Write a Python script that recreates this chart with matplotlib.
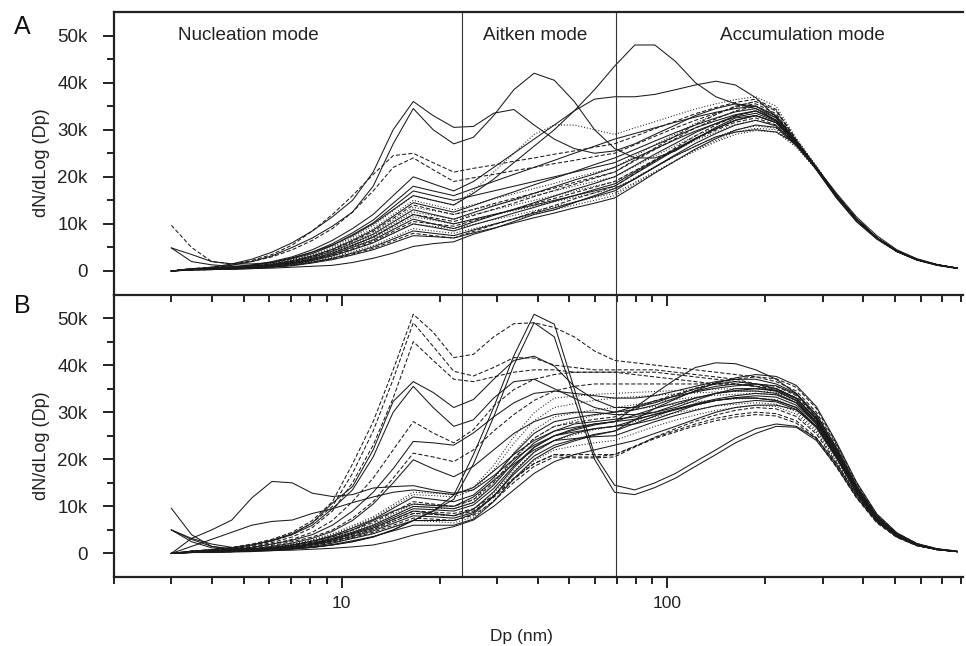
import matplotlib
matplotlib.use("Agg")
import matplotlib.pyplot as plt
import numpy as np
from matplotlib.ticker import FixedLocator, NullFormatter, FuncFormatter, LogLocator

plt.rcParams['font.family'] = ['Liberation Sans', 'DejaVu Sans']

# particle diameter bins (nm)
dp = [3.0, 3.46, 3.99, 4.6, 5.3, 6.11, 7.05, 8.13, 9.37, 10.8,
      12.5, 14.4, 16.6, 19.1, 22.1, 25.4, 29.3, 33.8, 39.0, 45.0,
      51.8, 59.8, 68.9, 79.5, 91.6, 106, 122, 141, 162, 187,
      216, 249, 287, 331, 381, 440, 507, 585, 674, 777]

mode_labels = ["Nucleation mode", "Aitken mode", "Accumulation mode"]
mode_bounds = [23.5, 69.5]
ytick_values = [0, 10000, 20000, 30000, 40000, 50000]

# ---- panel A (values in thousands) ----
a01 = [0, .3, .8, 1.5, 2.5, 4, 6, 8.5, 11.5, 15, 21, 30, 36, 33, 30.5, 30.7, 33.5, 34.3, 31, 28, 26, 25, 25.5, 27, 29, 31, 33, 34.5, 35.5, 35, 32.5, 27.5, 22, 16, 11, 7, 4.2, 2.4, 1.3, .6]
a02 = [0, .3, .6, 1.2, 2, 3.2, 5, 7, 9.5, 12.5, 18, 27, 34.5, 30, 27, 28.4, 33, 38.5, 42, 40.5, 36, 30, 26, 24, 24, 25.5, 28, 30.5, 32.5, 33, 31.5, 27.5, 22, 16, 11, 7, 4.3, 2.4, 1.3, .6]
a03 = [0, .3, .5, .8, 1.2, 1.8, 2.8, 4, 5.5, 7.5, 10, 13, 16, 15, 14, 16.5, 19.5, 23, 26.5, 30, 34, 38.5, 43.5, 48, 48, 44.5, 40, 37, 35.5, 34.5, 32, 27, 21.5, 15.5, 10.5, 6.8, 4.1, 2.3, 1.2, .6]
a04 = [0, .3, .5, .8, 1.2, 2, 3, 4.5, 6.5, 9, 12, 16, 20, 18.5, 17, 19, 22, 25, 28, 31, 34, 36.5, 37, 37, 37.5, 38.5, 39.5, 40.3, 39.5, 36.8, 32.7, 27.5, 21.5, 15.5, 10.5, 6.8, 4.1, 2.3, 1.2, .5]
a05 = [0, .2, .3, .4, .5, .6, .8, 1, 1.2, 1.8, 2.7, 3.8, 5.2, 5.8, 6.2, 7.8, 9, 10.5, 12, 13, 14.5, 16, 17.5, 19.5, 22, 24.5, 26.5, 28.5, 29.5, 30, 29.5, 27, 22, 16.5, 11.5, 7.5, 4.5, 2.6, 1.4, .6]
a06 = [0, .5, .8, 1.3, 2.2, 3.5, 5.5, 8.5, 12, 16, 20.5, 24.5, 25, 23, 21, 21.8, 22.5, 23.3, 24, 24.8, 25.5, 26.3, 27, 28.6, 30.2, 31.8, 33.4, 34.7, 35.8, 36.5, 34.3, 27.9, 22.1, 16, 11, 7, 4.2, 2.4, 1.3, .6]
a07 = [9.7, 5, 2, 1.5, 2, 3, 4.5, 6.5, 9, 12.5, 17, 22, 24, 21.5, 19, 19.8, 20.5, 21.3, 22, 22.8, 23.5, 24.3, 25, 26.8, 28.6, 30.4, 32, 33.5, 34.8, 35.5, 33.4, 27.6, 22, 16, 11, 7, 4.2, 2.4, 1.3, .6]
a08 = [0, .5, .7, .9, 1.3, 1.8, 2.7, 4, 5.8, 8.1, 10.8, 14.4, 18, 17, 16, 17.5, 19, 20.5, 22, 23.5, 25, 26.5, 28, 29.2, 30.4, 31.6, 32.7, 33.7, 34.5, 35, 33, 27.5, 21.9, 16, 11, 7, 4.2, 2.4, 1.3, .6]
a09 = [4.9, 3.5, 2, 1.5, 1.5, 1.8, 2.6, 3.7, 5.4, 7.7, 10.2, 13.6, 17, 16, 15, 16, 17, 18, 19, 20, 21, 22, 23, 24.9, 26.7, 28.6, 30.4, 31.9, 33.2, 34, 32, 27.3, 21.9, 16, 11, 7, 4.2, 2.4, 1.3, .6]
a10 = [0, .5, .6, .8, 1.1, 1.6, 2.4, 3.5, 5.1, 7.2, 9.6, 12.8, 16, 15, 14, 17, 21, 25, 29, 31, 31, 30, 29, 30.4, 31.7, 33.1, 34.4, 35.5, 36.4, 37, 35, 28.2, 22.3, 16.2, 11.1, 7.1, 4.3, 2.4, 1.3, .6]
a11 = [0, .5, .6, .8, 1.1, 1.5, 2.3, 3.3, 4.8, 6.8, 9, 12, 15, 14, 13, 14.1, 15.3, 16.4, 17.5, 18.6, 19.8, 20.9, 22, 24.4, 26.8, 29.1, 31.4, 33.3, 35, 36, 34, 27.8, 22.1, 16, 11, 7, 4.2, 2.4, 1.3, .6]
a12 = [0, .4, .6, .7, 1, 1.5, 2.2, 3.2, 4.6, 6.5, 8.7, 11.6, 14.5, 13.5, 12.5, 13.9, 15.4, 16.8, 18.3, 19.7, 21.1, 22.6, 24, 25.8, 27.6, 29.4, 31, 32.5, 33.8, 34.5, 32.5, 27.4, 21.9, 16, 11, 7, 4.2, 2.4, 1.3, .6]
a13 = [0, .4, .6, .7, 1, 1.4, 2.1, 3.1, 4.5, 6.3, 8.4, 11.2, 14, 13, 12, 13.1, 14.3, 15.4, 16.5, 17.6, 18.8, 19.9, 21, 23.4, 25.8, 28.1, 30.4, 32.3, 34, 35, 33, 27.5, 21.9, 16, 11, 7, 4.2, 2.4, 1.3, .6]
a14 = [0, .4, .5, .7, .9, 1.4, 2, 3, 4.3, 6.1, 8.1, 10.8, 13.5, 12.8, 12, 13, 14, 15, 16, 17, 18, 19, 20, 22.2, 24.4, 26.6, 28.7, 30.5, 32.1, 33, 31.5, 27, 21.8, 16, 11, 7, 4.2, 2.4, 1.3, .6]
a15 = [4.9, 2, 1.3, 1, 1, 1.3, 2, 2.9, 4.2, 5.9, 7.8, 10.4, 13, 12, 11, 12.4, 13.8, 15.1, 16.5, 17.9, 19.3, 20.6, 22, 24, 25.9, 27.9, 29.7, 31.3, 32.7, 33.5, 31.8, 27.1, 21.8, 16, 11, 7, 4.2, 2.4, 1.3, .6]
a16 = [0, .4, .5, .6, .9, 1.3, 1.9, 2.8, 4, 5.6, 7.5, 10, 12.5, 11.8, 11, 12, 13, 14, 15, 16, 17, 18, 19, 21.2, 23.4, 25.6, 27.7, 29.5, 31.1, 32, 31, 26.8, 21.7, 16, 11, 7, 4.2, 2.4, 1.3, .6]
a17 = [0, .4, .5, .6, .8, 1.2, 1.8, 2.6, 3.8, 5.4, 7.2, 9.6, 12, 11.3, 10.5, 11.8, 13.1, 14.4, 15.8, 17.1, 18.4, 19.7, 21, 23.6, 26.1, 28.7, 31.1, 33.2, 35, 36, 34, 27.8, 22.1, 16, 11, 7, 4.2, 2.4, 1.3, .6]
a18 = [0, .4, .5, .6, .8, 1.2, 1.8, 2.6, 3.8, 5.4, 7.2, 9.6, 12, 11, 10, 11, 12, 13, 14, 15, 16, 17, 18, 20.6, 23.1, 25.7, 28.1, 30.2, 32, 33, 31.5, 27, 21.8, 16, 11, 7, 4.2, 2.4, 1.3, .6]
a19 = [0, .3, .5, .6, .8, 1.2, 1.7, 2.5, 3.7, 5.2, 6.9, 9.2, 11.5, 10.8, 10, 10.9, 11.9, 12.8, 13.8, 14.7, 15.6, 16.6, 17.5, 19.8, 22.1, 24.4, 26.5, 28.4, 30, 30.8, 30.3, 26.8, 21.7, 16, 11, 7, 4.2, 2.4, 1.3, .6]
a20 = [0, .3, .4, .6, .8, 1.1, 1.7, 2.4, 3.5, 5, 6.6, 8.8, 11, 10, 9, 10.4, 11.8, 13.1, 14.5, 15.9, 17.3, 18.6, 20, 22.4, 24.8, 27.1, 29.4, 31.3, 33, 34, 32, 27.3, 21.9, 16, 11, 7, 4.2, 2.4, 1.3, .6]
a21 = [0, .3, .4, .5, .7, 1.1, 1.6, 2.3, 3.4, 4.7, 6.3, 8.4, 10.5, 10, 9.5, 10.7, 11.9, 13.1, 14.3, 15.4, 16.6, 17.8, 19, 21.3, 23.6, 25.9, 28, 29.9, 31.6, 32.5, 31, 26.9, 21.7, 16, 11, 7, 4.2, 2.4, 1.3, .6]
a22 = [0, .3, .4, .5, .7, 1, 1.5, 2.2, 3.2, 4.5, 6, 8, 10, 9.5, 9, 9.9, 10.9, 11.8, 12.8, 13.7, 14.6, 15.6, 16.5, 18.8, 21.1, 23.4, 25.5, 27.4, 29, 29.8, 29.5, 26.3, 21.5, 16, 11, 7, 4.2, 2.4, 1.3, .6]
a23 = [0, .3, .4, .5, .7, 1, 1.5, 2.2, 3.2, 4.5, 6, 8, 10, 9.3, 8.5, 9.8, 11, 12.3, 13.5, 14.8, 16, 17.3, 18.5, 21, 23.4, 25.9, 28.2, 30.2, 32, 33, 31.5, 27, 21.8, 16, 11, 7, 4.2, 2.4, 1.3, .6]
a24 = [0, .3, .4, .5, .6, .9, 1.4, 2, 2.9, 4.1, 5.4, 7.2, 9, 8.5, 8, 9, 10, 11, 12, 13, 14, 15, 16, 18.5, 20.9, 23.4, 25.7, 27.7, 29.5, 30.3, 30, 26.5, 21.6, 16, 11, 7, 4.2, 2.4, 1.3, .6]
a25 = [0, .3, .3, .4, .6, .9, 1.3, 1.9, 2.7, 3.8, 5.1, 6.8, 8.5, 8, 7.5, 8.7, 9.9, 11.1, 12.3, 13.4, 14.6, 15.8, 17, 19.6, 22.1, 24.7, 27.1, 29.2, 31, 32, 30.8, 26.8, 21.7, 16, 11, 7, 4.2, 2.4, 1.3, .6]
a26 = [0, .2, .3, .4, .6, .8, 1.2, 1.8, 2.6, 3.6, 4.8, 6.4, 8, 7.5, 7, 8.4, 9.8, 11.1, 12.5, 13.9, 15.3, 16.6, 18, 20.7, 23.4, 26.2, 28.7, 31, 32.9, 34, 32, 27.3, 21.9, 16, 11, 7, 4.2, 2.4, 1.3, .6]
a27 = [0, .2, .3, .4, .5, .8, 1.1, 1.7, 2.4, 3.4, 4.5, 6, 7.5, 7.3, 7, 8.1, 9.1, 10.2, 11.3, 12.3, 13.4, 14.4, 15.5, 18.1, 20.8, 23.4, 25.9, 28.1, 29.9, 31, 30.5, 26.6, 21.6, 16, 11, 7, 4.2, 2.4, 1.3, .6]

panel_a = [a01, a02, a03, a04, a05, a06, a07, a08, a09, a10, a11, a12, a13, a14,
           a15, a16, a17, a18, a19, a20, a21, a22, a23, a24, a25, a26, a27]
styles_a = ['-', '-', '-', '-', '-', '--', '--', '-', '-', ':', ':', '-', '--', ':',
            '-', ':', '--', '-', ':', '-', '--', ':', '-', ':', '-', '--', '-']

# ---- panel B (values in thousands) ----
b01 = [0, .5, .8, 1.3, 2, 3, 4.5, 7, 11, 19, 28, 39, 50.8, 47, 41.6, 42.3, 46, 48.8, 49, 48, 46, 43, 41, 40.5, 40, 39.5, 39, 38.5, 38, 37.5, 36.5, 34.5, 30, 23, 14.5, 8, 4, 1.9, .9, .4]
b02 = [0, .5, .7, 1.1, 1.7, 2.6, 4, 6.5, 10, 17, 26, 37, 49, 44, 38.7, 37.7, 39.5, 41.6, 41.5, 40, 39.5, 39, 39, 39, 39, 38.5, 38, 37.5, 37, 36, 35, 33, 28.5, 21.5, 13.5, 7.5, 3.9, 1.9, .9, .4]
b03 = [0, .4, .6, 1, 1.5, 2.3, 3.5, 5.5, 9, 15, 23, 33, 45, 41, 37, 36.5, 37.5, 38.5, 39, 39, 38.5, 38.5, 38.5, 38, 37.5, 37, 36.5, 36, 36, 35.5, 35, 33, 28.5, 21.5, 13.5, 7.5, 3.9, 1.9, .9, .4]
b04 = [0, .5, .8, 1.2, 1.8, 2.8, 4.2, 6.5, 10.7, 14.2, 22, 32.3, 36.5, 34.2, 31, 32.7, 37, 41, 41.9, 39.8, 35.5, 32.7, 31, 31, 32, 33.5, 35, 36, 36.5, 36, 35, 33, 28.5, 21.5, 13.5, 7.5, 3.9, 1.9, .9, .4]
b05 = [0, .5, .8, 1.2, 1.8, 2.7, 4, 6, 9.5, 13.5, 20.5, 30, 35.5, 31, 27, 28.4, 33, 36.5, 37, 35, 33, 31, 30, 30.5, 31.5, 33, 34.5, 35.5, 36, 35.5, 34.5, 32.5, 28, 21, 13, 7.2, 3.8, 1.8, .9, .4]
b06 = [0, .4, .6, .9, 1.3, 2, 3, 4.5, 7, 11, 16, 22, 28, 25.6, 23.5, 26.3, 31.3, 34.8, 37, 38, 38.5, 38.5, 38.5, 38.5, 38.5, 38, 37.5, 37, 36.5, 36, 35.5, 33.5, 29, 22, 14, 7.8, 4, 1.9, .9, .4]
b07 = [0, .4, .6, .9, 1.3, 2, 2.8, 4, 6, 9, 13, 18, 23.8, 23.5, 23, 25.6, 29, 32, 34, 34.5, 34, 33.5, 33, 33, 33.5, 34.5, 35.5, 36.5, 37, 37, 36, 34, 29.5, 22.5, 14.5, 8, 4.2, 2, 1, .4]
b08 = [0, .4, .6, .8, 1.2, 1.7, 2.5, 3.5, 5, 7.5, 11, 16, 21.3, 20.5, 19.5, 22, 26, 29.5, 32.5, 34.5, 35.5, 36, 36, 36, 36, 36, 36, 36, 36, 35.5, 35, 33, 28.5, 21.5, 13.5, 7.5, 3.9, 1.9, .9, .4]
b09 = [0, .4, .5, .7, 1, 1.5, 2.2, 3.2, 4.7, 7, 10.5, 15, 19.9, 18, 16.3, 18.5, 22, 25.5, 28, 29.5, 30, 30, 29.5, 29.5, 30, 31, 32.5, 34, 35, 35, 34.5, 32.5, 28, 21, 13.2, 7.3, 3.8, 1.8, .9, .4]
b10 = [0, 3.2, 5, 7.1, 11.8, 15.3, 15, 12.8, 12.1, 12.5, 13.9, 14.2, 14.4, 13.5, 12.8, 13.5, 16.5, 20, 23, 25, 26.5, 27.5, 28, 28.5, 29.5, 30.5, 31.5, 32.5, 33, 33, 32.5, 31, 27, 20.5, 13, 7.2, 3.8, 1.8, .9, .4]
b11 = [0, 1.5, 3, 4.5, 6, 6.8, 7.1, 8.5, 9.5, 10.8, 12, 13, 13.5, 13, 12.5, 14, 17.5, 21, 24, 26, 27.5, 28, 28.5, 29, 30, 31.5, 33, 34, 34.5, 34.5, 34, 32, 27.5, 21, 13.2, 7.3, 3.8, 1.8, .9, .4]
b12 = [9.6, 4, 1.5, 1, 1, 1.3, 1.8, 2.6, 3.6, 5, 7, 9, 10.5, 10.2, 10, 12, 15.5, 19, 22, 24, 25.5, 26.5, 27, 27.5, 28.5, 30, 31.5, 32.5, 33, 33, 32.5, 31, 27, 20.5, 13, 7.2, 3.8, 1.8, .9, .4]
b13 = [0, .3, .4, .5, .6, .8, 1, 1.3, 1.8, 2.5, 3.5, 5, 7, 9, 12.4, 21, 31, 42, 50.8, 48.7, 35, 21, 14.5, 13.5, 15, 17, 19.5, 22, 24.5, 26.5, 27.5, 27, 24.5, 19, 12.5, 7, 3.6, 1.7, .8, .4]
b14 = [0, .3, .4, .5, .6, .8, 1, 1.3, 1.8, 2.5, 3.5, 5, 7, 9, 11.5, 19, 29, 40, 49, 46, 33, 20, 13, 12.5, 14, 16, 18.5, 21, 23.5, 25.5, 27, 26.8, 24, 18.5, 12, 6.8, 3.5, 1.7, .8, .4]
b15 = [0, .2, .3, .4, .5, .6, .7, .9, 1.1, 1.4, 1.8, 2.7, 3.9, 4.8, 5.7, 7.1, 10, 13.5, 17, 19.5, 21, 22, 23, 24, 25.5, 27, 28.5, 30, 31, 31.5, 31.5, 30.5, 27, 20.5, 13, 7.2, 3.8, 1.8, .9, .4]
b16 = [0, .4, .5, .7, .9, 1.3, 2, 2.9, 4.2, 5.9, 7.8, 10.4, 13, 12.8, 12.5, 14.1, 18.7, 24.8, 29.9, 33, 33.4, 33.8, 34, 34.2, 34.4, 34.6, 34.7, 34.9, 35, 35, 34.7, 32.9, 28.7, 21.7, 14, 7.7, 4, 1.9, .9, .4]
b17 = [0, .4, .5, .6, .9, 1.3, 1.9, 2.8, 4, 5.6, 7.5, 10, 12.5, 12.3, 12, 13.5, 17.7, 23.4, 28.2, 31, 31.8, 32.5, 33, 33.3, 33.6, 33.9, 34.1, 34.3, 34.4, 34.5, 34.2, 32.4, 28.3, 21.4, 13.8, 7.6, 4, 1.9, .9, .4]
b18 = [5, 3, 1.5, .8, .9, 1.2, 1.8, 2.6, 3.8, 5.4, 7.2, 9.6, 12, 11.5, 11, 12.4, 16.1, 21.2, 25.5, 28, 28.8, 29.5, 30, 31.2, 32.4, 33.4, 34.3, 35.1, 35.6, 36, 35.6, 33.8, 29.5, 22.3, 14.4, 7.9, 4.1, 2, .9, .4]
b19 = [0, .3, .4, .6, .8, 1.1, 1.7, 2.4, 3.5, 5, 6.6, 8.8, 11, 10.5, 10, 11.4, 15.1, 20.2, 24.5, 27, 27.8, 28.5, 29, 30.7, 32.4, 33.8, 35.1, 36.2, 37, 37.5, 37.1, 35.3, 30.8, 23.3, 15, 8.3, 4.3, 2.1, 1, .5]
b20 = [0, .3, .4, .5, .7, 1.1, 1.6, 2.3, 3.4, 4.7, 6.3, 8.4, 10.5, 10.3, 10, 11.5, 15.7, 21.4, 26.2, 29, 29.8, 30.5, 31, 31.6, 32.2, 32.7, 33.2, 33.6, 33.8, 34, 33.7, 32, 27.9, 21.1, 13.6, 7.5, 3.9, 1.9, .9, .4]
b21 = [0, .3, .4, .5, .7, 1, 1.5, 2.2, 3.2, 4.5, 6, 8, 10, 9.8, 9.5, 10.8, 14.5, 19.4, 23.5, 26, 26.8, 27.5, 28, 29.4, 30.8, 32, 33, 34, 34.6, 35, 34.7, 32.9, 28.7, 21.7, 14, 7.7, 4, 1.9, .9, .4]
b22 = [0, .3, .4, .5, .7, 1, 1.5, 2.2, 3.2, 4.5, 6, 8, 10, 9.7, 9.5, 10.9, 14.8, 20, 24.4, 27, 28.2, 29.3, 30, 30.6, 31.2, 31.7, 32.2, 32.6, 32.8, 33, 32.7, 31, 27.1, 20.5, 13.2, 7.3, 3.8, 1.8, .9, .4]
b23 = [5, 2.5, 1.2, .8, .7, 1, 1.4, 2.1, 3, 4.3, 5.7, 7.6, 9.5, 9.3, 9, 10.3, 13.8, 18.6, 22.6, 25, 25.8, 26.5, 27, 28.3, 29.6, 30.7, 31.7, 32.5, 33.1, 33.5, 33.2, 31.5, 27.5, 20.8, 13.4, 7.4, 3.9, 1.8, .9, .4]
b24 = [0, .3, .4, .5, .6, .9, 1.4, 2, 2.9, 4.1, 5.4, 7.2, 9, 8.8, 8.5, 9.5, 12.3, 16, 19.1, 21, 21, 21, 21, 22.8, 24.6, 26.1, 27.5, 28.7, 29.5, 30, 29.7, 28.2, 24.6, 18.6, 12, 6.6, 3.5, 1.7, .8, .4]
b25 = [0, .3, .3, .4, .6, .9, 1.3, 1.9, 2.7, 3.8, 5.1, 6.8, 8.5, 8.3, 8, 9, 11.9, 15.8, 19.1, 21, 20.5, 20.5, 21, 22.7, 24.4, 25.8, 27.1, 28.2, 29, 29.5, 29.2, 27.7, 24.2, 18.3, 11.8, 6.5, 3.4, 1.6, .8, .4]
b26 = [0, .3, .3, .4, .6, .9, 1.3, 1.9, 2.7, 3.8, 5.1, 6.8, 8.5, 8.3, 8, 9.3, 12.8, 17.6, 21.6, 24, 25.2, 26.3, 27, 28, 29, 29.9, 30.6, 31.3, 31.7, 32, 31.7, 30.1, 26.2, 19.8, 12.8, 7, 3.7, 1.8, .8, .4]
b27 = [0, .2, .3, .4, .6, .8, 1.2, 1.8, 2.6, 3.6, 4.8, 6.4, 8, 7.8, 7.5, 8.7, 12.2, 16.8, 20.7, 23, 24.2, 25.3, 26, 27.6, 29.2, 30.6, 31.8, 32.8, 33.5, 34, 33.7, 32, 27.9, 21.1, 13.6, 7.5, 3.9, 1.9, .9, .4]
b28 = [0, .2, .3, .4, .5, .8, 1.1, 1.7, 2.4, 3.4, 4.5, 6, 7.5, 7.3, 7, 8.1, 11.1, 15.1, 18.5, 20.5, 20.3, 20.3, 20.5, 22.6, 24.7, 26.5, 28.1, 29.4, 30.4, 31, 30.7, 29.1, 25.4, 19.2, 12.4, 6.8, 3.6, 1.7, .8, .4]
b29 = [5, 3.2, 2, 1.3, .9, .9, 1.1, 1.5, 2.2, 3.2, 4.2, 5.6, 7, 7, 7, 8.4, 12.1, 17.2, 21.5, 24, 24.4, 24.8, 25, 26.5, 28, 29.3, 30.4, 31.4, 32, 32.5, 32.2, 30.6, 26.7, 20.2, 13, 7.2, 3.7, 1.8, .8, .4]
b30 = [0, .2, .3, .4, .5, .7, 1.1, 1.5, 2.2, 3.2, 4.2, 5.6, 7, 6.8, 6.5, 7.7, 11.2, 15.8, 19.7, 22, 22.8, 23.5, 24, 25.5, 27, 28.3, 29.4, 30.4, 31, 31.5, 31.2, 29.6, 25.8, 19.5, 12.6, 6.9, 3.6, 1.7, .8, .4]
b31 = [0, .2, .2, .3, .4, .6, .9, 1.3, 1.9, 2.7, 3.6, 4.8, 6, 6, 6, 7.3, 11, 15.9, 20, 22.5, 23.9, 25.1, 26, 28.4, 30.8, 32.8, 34.6, 36.2, 37.3, 38, 37.6, 35.7, 31.2, 23.6, 15.2, 8.4, 4.4, 2.1, 1, .5]
b32 = [0, .3, .4, .5, .6, .9, 1.4, 2, 2.9, 4.1, 5.4, 7.2, 9, 8.5, 8, 9.4, 13.1, 18.2, 22.5, 25, 26.2, 27.3, 28, 31, 34, 37, 39.5, 40.5, 40.3, 39, 37, 34, 29, 22, 14, 7.7, 4, 1.9, .9, .4]

panel_b = [b01, b02, b03, b04, b05, b06, b07, b08, b09, b10, b11, b12, b13, b14, b15, b16,
           b17, b18, b19, b20, b21, b22, b23, b24, b25, b26, b27, b28, b29, b30, b31, b32]
styles_b = ['--', '--', '--', '-', '-', '--', '-', '--', '-', '-', '-', '-', '-', '-', '-', ':',
            ':', '-', '--', ':', '-', ':', '-', '--', '--', ':', '-', '--', '-', ':', '-', '-']

LS = {'-': '-', '--': (0, (4, 2)), ':': (0, (1, 1.8))}
TXT = '#222222'

fig = plt.figure(figsize=(9.66, 6.46), dpi=100)
axA = fig.add_axes([0.118, 0.5441, 0.879, 0.4373])
axB = fig.add_axes([0.118, 0.1068, 0.879, 0.4373])

def kfmt(v, pos):
    if abs(v) < 1:
        return '0'
    return f'{int(round(v / 1000))}k'

for ax, curves, styles in [(axA, panel_a, styles_a), (axB, panel_b, styles_b)]:
    ax.patch.set_alpha(0)
    for c, s in zip(curves, styles):
        ax.plot(dp, np.array(c) * 1000, color='#1a1a1a', lw=0.75, ls=LS[s])
    for xb in mode_bounds:
        ax.axvline(xb, color='#333333', lw=0.8)
    ax.set_xscale('log')
    ax.set_xlim(2, 810)
    ax.set_ylim(-5000, 55000)
    ax.yaxis.set_major_locator(FixedLocator(ytick_values))
    ax.yaxis.set_minor_locator(FixedLocator([5000, 15000, 25000, 35000, 45000]))
    ax.yaxis.set_major_formatter(FuncFormatter(kfmt))
    ax.xaxis.set_major_locator(FixedLocator([10, 100]))
    ax.xaxis.set_minor_locator(LogLocator(base=10, subs=np.arange(2, 10), numticks=20))
    ax.xaxis.set_minor_formatter(NullFormatter())
    ax.tick_params(axis='both', which='major', direction='out', length=8, width=1.4,
                   labelsize=12.5, colors=TXT)
    ax.tick_params(axis='y', which='major', labelsize=13.5, pad=11)
    ax.tick_params(axis='both', which='minor', direction='out', length=5, width=1.4, colors=TXT)
    ax.spines['right'].set_visible(False)
    for sp in ['left', 'top', 'bottom']:
        ax.spines[sp].set_linewidth(1.6)
        ax.spines[sp].set_color(TXT)
    ax.set_ylabel('dN/dLog (Dp)', fontsize=13, color=TXT)
    ax.yaxis.set_label_coords(-0.0754, 0.465)

axB.spines['top'].set_visible(False)
axA.tick_params(axis='x', labelbottom=False)
axB.xaxis.set_major_formatter(FuncFormatter(lambda v, p: f'{int(v)}'))
axB.tick_params(axis='x', pad=6)

fig.text(521 / 966, 1 - 637 / 646, 'Dp (nm)', ha='center', va='center', fontsize=12.5, color=TXT)

axA.text(3.14, 50000, mode_labels[0], ha='left', va='center', fontsize=13.6, color=TXT)
axA.text(39.2, 50000, mode_labels[1], ha='center', va='center', fontsize=13.6, color=TXT)
axA.text(260, 50000, mode_labels[2], ha='center', va='center', fontsize=13.6, color=TXT)

fig.text(22 / 966, 1 - 27 / 646, 'A', ha='center', va='center', fontsize=18, color='#111111')
fig.text(22 / 966, 1 - 306 / 646, 'B', ha='center', va='center', fontsize=18, color='#111111')

fig.savefig('out.png', dpi=100)
